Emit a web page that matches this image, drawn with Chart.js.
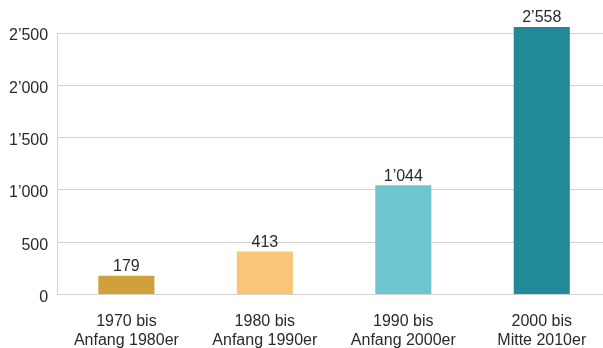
<!DOCTYPE html>
<html lang="de">

<head>
    <meta charset="UTF-8">
    <title>Anzahl nach Zeitraum</title>
    <script src="https://cdn.jsdelivr.net/npm/chart.js"></script>
    <style>
        html, body { margin: 0; padding: 0; background: #fff; overflow: hidden; }
        .chart-container { position: relative; width: 611px; height: 367px; }
    </style>
</head>

<body>
    <div class="chart-container">
        <canvas id="periodChart"></canvas>
    </div>

    <script>
        var categories = [
            ['1970 bis', 'Anfang 1980er'],
            ['1980 bis', 'Anfang 1990er'],
            ['1990 bis', 'Anfang 2000er'],
            ['2000 bis', 'Mitte 2010er']
        ];
        var values = [179, 413, 1044, 2558];
        var barColors = ['#d0a03b', '#f9c576', '#6ec5cf', '#228998'];
        var yTicks = [0, 500, 1000, 1500, 2000, 2500];

        var fontFamily = '"Liberation Sans", Arial, sans-serif';
        var fontSize = 16;
        var textColor = '#2a2a2a';
        var gridColor = '#d2d2d2';

        // Swiss style thousands separator: 2’500
        function formatNumber(n) {
            return String(n).replace(/\B(?=(\d{3})+(?!\d))/g, '\u2019');
        }

        // value labels above each bar
        var valueLabels = {
            id: 'valueLabels',
            afterDatasetsDraw: function(chart) {
                var ctx = chart.ctx;
                var meta = chart.getDatasetMeta(0);
                ctx.save();
                ctx.font = fontSize + 'px ' + fontFamily;
                ctx.fillStyle = textColor;
                ctx.textAlign = 'center';
                ctx.textBaseline = 'bottom';
                meta.data.forEach(function(bar, i) {
                    ctx.fillText(formatNumber(values[i]), bar.x, bar.y - 1);
                });
                ctx.restore();
            }
        };

        var ctx = document.getElementById('periodChart').getContext('2d');
        var chart = new Chart(ctx, {
            type: 'bar',
            data: {
                labels: categories,
                datasets: [{
                    data: values,
                    backgroundColor: barColors,
                    borderWidth: 0,
                    barPercentage: 0.405,
                    categoryPercentage: 1,
                    clip: false
                }]
            },
            options: {
                responsive: true,
                maintainAspectRatio: false,
                animation: false,
                layout: {
                    padding: { top: 33, left: 0, right: 0, bottom: 0 }
                },
                plugins: {
                    legend: { display: false },
                    tooltip: { enabled: false }
                },
                scales: {
                    x: {
                        grid: { display: false, drawTicks: false },
                        border: { display: true, color: gridColor },
                        ticks: {
                            color: textColor,
                            font: { family: fontFamily, size: fontSize, lineHeight: 1.2 },
                            padding: 17,
                            maxRotation: 0
                        }
                    },
                    y: {
                        min: 0,
                        max: 2500,
                        afterBuildTicks: function(scale) {
                            scale.ticks = yTicks.map(function(v) { return { value: v }; });
                        },
                        grid: { color: gridColor, drawTicks: false },
                        border: { display: true, color: gridColor },
                        ticks: {
                            color: textColor,
                            font: { family: fontFamily, size: fontSize },
                            padding: 9,
                            labelOffset: 3,
                            callback: function(value) { return formatNumber(value); }
                        }
                    }
                }
            },
            plugins: [valueLabels]
        });
    </script>
</body>

</html>
